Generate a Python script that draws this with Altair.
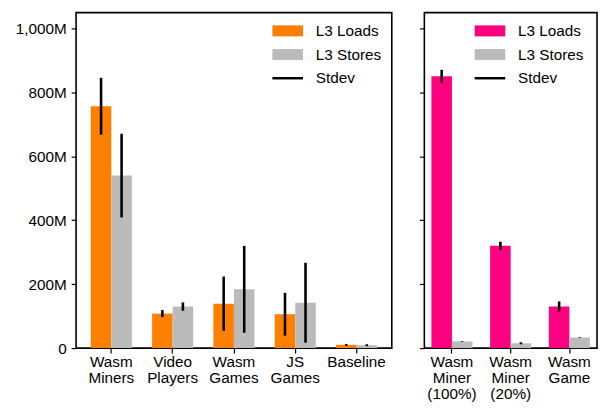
import altair as alt
import pandas as pd

# Left panel
left_cats = ["Wasm|Miners", "Video|Players", "Wasm|Games", "JS|Games", "Baseline"]
left_loads = [757, 108, 139, 106, 10]
left_loads_sd = [89, 11, 85, 67, 3]
left_stores = [540, 130, 184, 142, 9]
left_stores_sd = [131, 13, 136, 125, 3]

# Right panel
right_cats = ["Wasm|Miner|(100%)", "Wasm|Miner|(20%)", "Wasm|Game"]
right_loads = [851, 320, 130]
right_loads_sd = [20, 13, 16]
right_stores = [21, 15, 33]
right_stores_sd = [1, 3, 1]

series = ["L3 Loads", "L3 Stores", "Stdev"]
FONT = "Liberation Sans"
FS = 15.5


def frame(cats, loads, lsd, stores, ssd):
    rows = []
    for c, v, s in zip(cats, loads, lsd):
        rows.append({"cat": c, "series": "L3 Loads", "v": v, "lo": v - s, "hi": v + s})
    for c, v, s in zip(cats, stores, ssd):
        rows.append({"cat": c, "series": "L3 Stores", "v": v, "lo": v - s, "hi": v + s})
    return pd.DataFrame(rows)


rect_path = "M-1,-0.36L1,-0.36L1,0.36L-1,0.36Z"
line_path = "M-1,-0.08L1,-0.08L1,0.08L-1,0.08Z"


def panel(df, cats, main_color, show_labels, width, pi, po, leg_x, leg_y):
    yaxis = alt.Axis(
        values=[0, 200, 400, 600, 800, 1000],
        labelExpr="datum.value == 0 ? '0' : format(datum.value, ',') + 'M'",
        grid=False, domain=False, tickSize=5, tickColor="black", tickWidth=1.2,
        labels=show_labels, labelFontSize=FS, labelFont=FONT, labelColor="black",
        labelPadding=5, title=None,
    )
    xaxis = alt.Axis(
        labelAngle=0, labelExpr="split(datum.label, '|')", labelFontSize=FS,
        labelFont=FONT, labelColor="black", labelLineHeight=16.3, domain=False,
        tickSize=5, tickColor="black", tickWidth=1.2, title=None, labelPadding=2,
    )
    xscale = alt.Scale(domain=cats, paddingInner=pi, paddingOuter=po)
    xoff = alt.XOffset("series:N", sort=series[:2],
                       scale=alt.Scale(domain=series[:2], paddingInner=0, paddingOuter=0))
    x = alt.X("cat:N", sort=cats, scale=xscale, axis=xaxis)
    y = alt.Y("v:Q", scale=alt.Scale(domain=[0, 1050], nice=False), axis=yaxis)
    legend = alt.Legend(
        title=None, orient="none", legendX=leg_x, legendY=leg_y,
        labelFontSize=FS, labelFont=FONT, labelColor="black",
        symbolSize=961, labelOffset=13, rowPadding=-11.5, padding=0,
        symbolStrokeWidth=0, symbolOpacity=1,
    )
    color = alt.Color(
        "series:N",
        scale=alt.Scale(domain=series, range=[main_color, "#bbbbbb", "black"]),
        legend=legend,
    )
    shape = alt.Shape(
        "series:N",
        scale=alt.Scale(domain=series, range=[rect_path, rect_path, line_path]),
        legend=legend,
    )
    bars = alt.Chart(df).mark_bar(opacity=1).encode(x=x, xOffset=xoff, y=y, color=color)
    errs = alt.Chart(df).mark_rule(color="black", strokeWidth=2.6).encode(
        x=x, xOffset=xoff, y=alt.Y("lo:Q"), y2="hi:Q",
    )
    keys = alt.Chart(df).mark_point(filled=True, opacity=1).encode(
        x=x, y=y, color=color, shape=shape,
    ).transform_filter("false")
    return alt.layer(bars, errs, keys).properties(
        width=width, height=340,
        view=alt.ViewBackground(stroke="#000000", strokeWidth=1.6, strokeOpacity=1),
    )


left = panel(frame(left_cats, left_loads, left_loads_sd, left_stores, left_stores_sd),
             left_cats, "#ff8000", True, 320, 0.33, 0.24, 199, 3)
right = panel(frame(right_cats, right_loads, right_loads_sd, right_stores, right_stores_sd),
              right_cats, "#ff0080", False, 175, 0.30, 0.12, 51, 3)

chart = alt.hconcat(left, right, spacing=25).resolve_scale(
    color="independent", shape="independent", x="independent"
).configure_view(
    stroke="#000000", strokeWidth=1.6
).properties(
    padding={"left": 6, "top": 1, "right": 0, "bottom": 0},
    background="white",
)

chart.save("out.html", embed_options={"renderer": "svg", "actions": False})
